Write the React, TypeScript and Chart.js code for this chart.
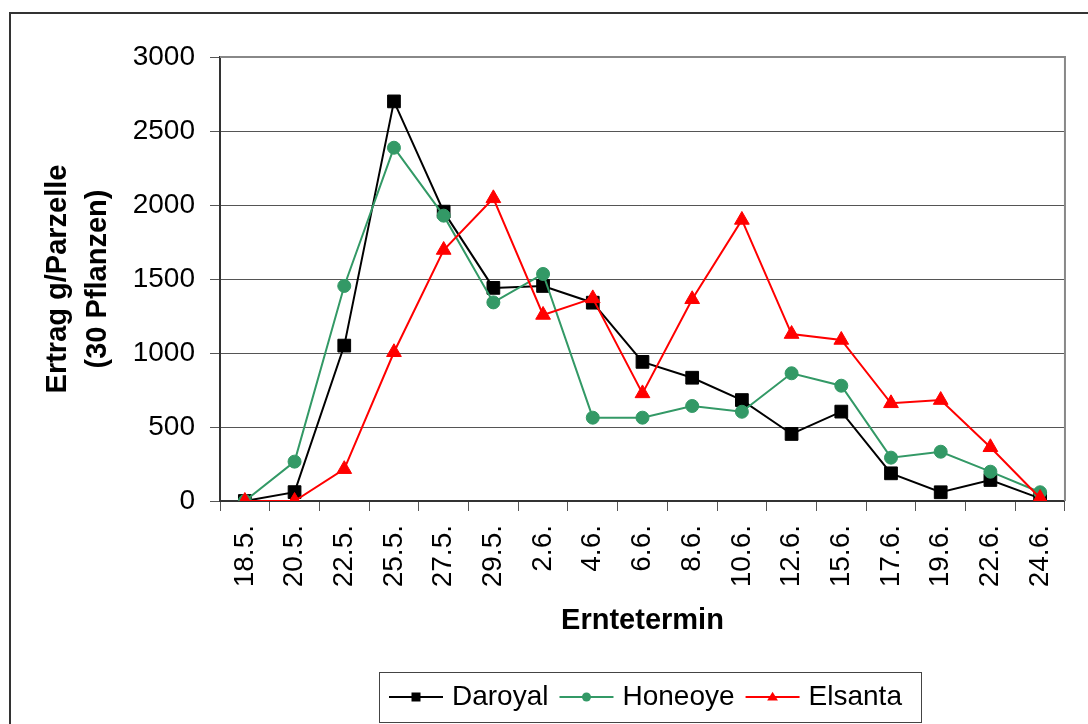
import React, { useEffect, useRef } from 'react';
import { Chart, registerables } from 'chart.js';

Chart.register(...registerables);

const FONT = '"Liberation Sans", Arial, sans-serif';

const categories = ['18.5.', '20.5.', '22.5.', '25.5.', '27.5.', '29.5.', '2.6.', '4.6.', '6.6.', '8.6.', '10.6.', '12.6.', '15.6.', '17.6.', '19.6.', '22.6.', '24.6.'];
const daroyal = [0, 60, 1050, 2700, 1955, 1440, 1453, 1340, 940, 833, 682, 453, 604, 187, 59, 142, 18];
const honeoye = [0, 266, 1453, 2387, 1928, 1342, 1534, 563, 563, 642, 603, 863, 779, 293, 333, 198, 59];
const elsanta = [0, 0, 215, 1005, 1696, 2045, 1257, 1369, 727, 1363, 1899, 1128, 1088, 660, 682, 363, 20];

const seriesNames = ['Daroyal', 'Honeoye', 'Elsanta'];
const seriesColors = ['#000000', '#339966', '#FF0000'];
const seriesStyles = ['rect', 'circle', 'triangle'];
const yTitle = ['Ertrag g/Parzelle', '(30 Pflanzen)'];
const xTitle = 'Erntetermin';

function drawMarker(ctx: CanvasRenderingContext2D, style: string, x: number, y: number, r: number) {
  ctx.beginPath();
  if (style === 'rect') {
    ctx.rect(x - r, y - r, 2 * r, 2 * r);
  } else if (style === 'circle') {
    ctx.arc(x, y, r, 0, Math.PI * 2);
  } else {
    ctx.moveTo(x, y - r * 1.15);
    ctx.lineTo(x + r * 1.2, y + r * 0.8);
    ctx.lineTo(x - r * 1.2, y + r * 0.8);
    ctx.closePath();
  }
  ctx.fill();
}

const framePlugin = {
  id: 'framePlugin',
  beforeDraw(chart: any) {
    const { ctx, width, height } = chart;
    ctx.save();
    ctx.fillStyle = '#ffffff';
    ctx.fillRect(0, 0, width, height);
    ctx.restore();
  },
  beforeDatasetsDraw(chart: any) {
    const { ctx, chartArea: a } = chart;
    ctx.save();
    ctx.strokeStyle = '#888888';
    ctx.lineWidth = 2;
    ctx.beginPath();
    ctx.moveTo(a.left, a.top);
    ctx.lineTo(a.right, a.top);
    ctx.lineTo(a.right, a.bottom);
    ctx.stroke();
    ctx.restore();
  },
  afterDraw(chart: any) {
    const { ctx } = chart;
    ctx.save();
    // outer frame
    ctx.strokeStyle = '#333333';
    ctx.lineWidth = 2;
    ctx.strokeRect(10, 13, 1300, 1000);
    // legend box
    const bx = 379.5, by = 672.5, bw = 542, bh = 50;
    ctx.lineWidth = 1;
    ctx.strokeStyle = '#444444';
    ctx.fillStyle = '#ffffff';
    ctx.fillRect(bx, by, bw, bh);
    ctx.strokeRect(bx, by, bw, bh);
    ctx.font = '28px ' + FONT;
    ctx.textBaseline = 'middle';
    ctx.textAlign = 'left';
    const cy = 697;
    let x = 389;
    chart.data.datasets.forEach((ds: any, i: number) => {
      const color = ds.borderColor;
      ctx.strokeStyle = color;
      ctx.lineWidth = 2;
      ctx.beginPath();
      ctx.moveTo(x, cy);
      ctx.lineTo(x + 54, cy);
      ctx.stroke();
      ctx.fillStyle = color;
      drawMarker(ctx, seriesStyles[i], x + 27, cy, 4.5);
      ctx.fillStyle = '#000000';
      const tx = x + 63;
      ctx.fillText(ds.label, tx, cy);
      x = tx + ctx.measureText(ds.label).width + 11;
    });
    ctx.restore();
  },
};

export default function App() {
  const ref = useRef<HTMLCanvasElement | null>(null);

  useEffect(() => {
    if (!ref.current) return;
    const values = [daroyal, honeoye, elsanta];
    const radii = [9, 6.5, 8.5];
    const chart = new Chart(ref.current, {
      type: 'line',
      data: {
        labels: categories,
        datasets: seriesNames.map((name, i) => ({
          label: name,
          data: values[i],
          borderColor: seriesColors[i],
          backgroundColor: seriesColors[i],
          pointBackgroundColor: seriesColors[i],
          pointBorderColor: seriesColors[i],
          pointStyle: seriesStyles[i] as any,
          pointRadius: radii[i],
          pointBorderWidth: 1,
          borderWidth: 2,
          tension: 0,
          fill: false,
          order: 2 - i,
        })),
      },
      options: {
        animation: false,
        responsive: false,
        devicePixelRatio: 1,
        layout: { padding: { top: 57, right: 4, left: 0, bottom: 0 } },
        plugins: {
          legend: { display: false },
          tooltip: { enabled: false },
        },
        scales: {
          x: {
            type: 'category',
            offset: true,
            grid: { offset: true, drawOnChartArea: false, drawTicks: true, tickLength: 10, color: '#555555', lineWidth: 1 },
            border: { display: true, color: '#333333', width: 2 },
            ticks: {
              minRotation: 90,
              maxRotation: 90,
              autoSkip: false,
              padding: 14,
              color: '#000000',
              font: { family: FONT, size: 28 },
            },
            title: {
              display: true,
              text: xTitle,
              color: '#000000',
              font: { family: FONT, size: 29, weight: 'bold' },
              padding: { top: 0, bottom: 86 },
            },
            afterFit: (s: any) => { s.height = 223; },
          },
          y: {
            min: 0,
            max: 3000,
            ticks: {
              stepSize: 500,
              padding: 15,
              color: '#000000',
              font: { family: FONT, size: 28 },
              callback: (v: any) => String(v),
            },
            grid: { color: '#555555', lineWidth: 1, tickLength: 10 },
            border: { display: true, color: '#333333', width: 2 },
            title: {
              display: true,
              text: yTitle,
              color: '#000000',
              font: { family: FONT, size: 29, weight: 'bold', lineHeight: 40 / 29 },
              padding: { top: 38, bottom: 0 },
            },
            afterFit: (s: any) => { s.width = 220; },
          },
        },
      } as any,
      plugins: [framePlugin],
    });
    return () => chart.destroy();
  }, []);

  return (
    <div style={{ position: 'absolute', left: 0, top: 0, width: 1088, height: 724, background: '#fff' }}>
      <canvas ref={ref} width={1088} height={724} style={{ display: 'block', width: 1088, height: 724 }} />
    </div>
  );
}
